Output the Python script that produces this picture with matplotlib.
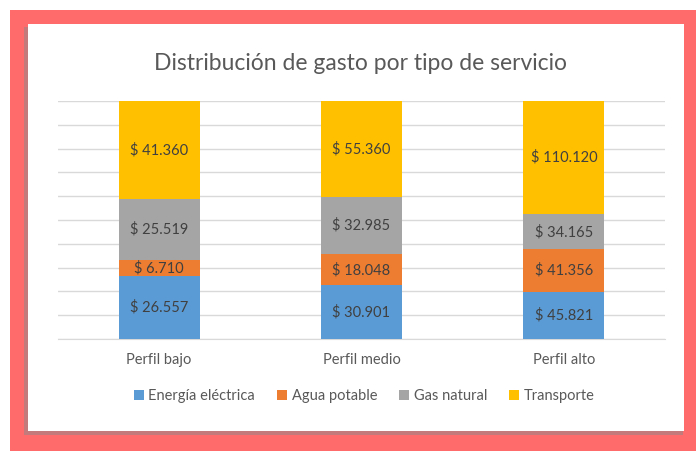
import numpy as np
import matplotlib.pyplot as plt
from matplotlib.patches import Rectangle

plt.rcParams['font.family'] = ['Lato', 'DejaVu Sans']

# datos
perfiles = ["Perfil bajo", "Perfil medio", "Perfil alto"]
servicios = ["Energía eléctrica", "Agua potable", "Gas natural", "Transporte"]
energia = [26.557, 30.901, 45.821]
agua = [6.710, 18.048, 41.356]
gas = [25.519, 32.985, 34.165]
transporte = [41.360, 55.360, 110.120]
etiquetas = [
    ["$ 26.557", "$ 30.901", "$ 45.821"],
    ["$ 6.710", "$ 18.048", "$ 41.356"],
    ["$ 25.519", "$ 32.985", "$ 34.165"],
    ["$ 41.360", "$ 55.360", "$ 110.120"],
]
colores = ["#5B9BD5", "#ED7D31", "#A5A5A5", "#FFC000"]

W, H = 696, 451
fig = plt.figure(figsize=(W / 100, H / 100), dpi=100)
fig.patch.set_facecolor("white")

def px_rect(x0, y0, x1, y1, **kw):
    # coordenadas en pixeles (origen arriba a la izquierda)
    r = Rectangle((x0 / W, 1 - y1 / H), (x1 - x0) / W, (y1 - y0) / H,
                  transform=fig.transFigure, **kw)
    fig.patches.append(r)

px_rect(10, 10, 696, 451, facecolor="#FF6B6B", edgecolor="none", zorder=0)
px_rect(24, 27, 683, 435, facecolor="#8a8a8a", edgecolor="none", alpha=0.5, zorder=1)
px_rect(28, 24, 684, 431, facecolor="white", edgecolor="none", zorder=2)

ax = fig.add_axes([58 / W, (H - 339) / H, 607 / W, 238 / H])
ax.set_zorder(3)
ax.patch.set_alpha(0)

datos = np.array([energia, agua, gas, transporte])
pct = datos / datos.sum(axis=0) * 100
x = np.arange(len(perfiles))
abajo = np.zeros(len(perfiles))
for i, serie in enumerate(servicios):
    ax.bar(x, pct[i], 0.4, bottom=abajo, color=colores[i], label=serie, zorder=3)
    for j in range(len(perfiles)):
        ax.text(x[j], abajo[j] + pct[i][j] / 2, etiquetas[i][j], ha="center", va="center",
                fontsize=10.5, color="#404040", zorder=4)
    abajo += pct[i]

ax.set_xlim(-0.5, 2.5)
ax.set_ylim(0, 100)
ax.set_yticks(np.arange(0, 101, 10))
ax.yaxis.grid(True, color="#D9D9D9", linewidth=1)
ax.set_axisbelow(True)
ax.tick_params(axis="y", left=False, labelleft=False)
ax.tick_params(axis="x", length=0, pad=10, labelsize=10.5, labelcolor="#595959")
ax.set_xticks(x)
ax.set_xticklabels(perfiles)
for s in ["top", "right", "left"]:
    ax.spines[s].set_visible(False)
ax.spines["bottom"].set_color("#D9D9D9")

fig.text(361 / W, 1 - 63 / H, "Distribución de gasto por tipo de servicio",
         ha="center", va="center", fontsize=16.5, color="#595959", zorder=4)

leg = fig.legend(loc="center", bbox_to_anchor=(364 / W, 1 - 396 / H), ncol=4,
                 frameon=False, fontsize=10.5, handlelength=0.7, handleheight=0.7,
                 handletextpad=0.3, columnspacing=1.5)
for t in leg.get_texts():
    t.set_color("#595959")
leg.set_zorder(4)

fig.savefig("out.png", dpi=100)
